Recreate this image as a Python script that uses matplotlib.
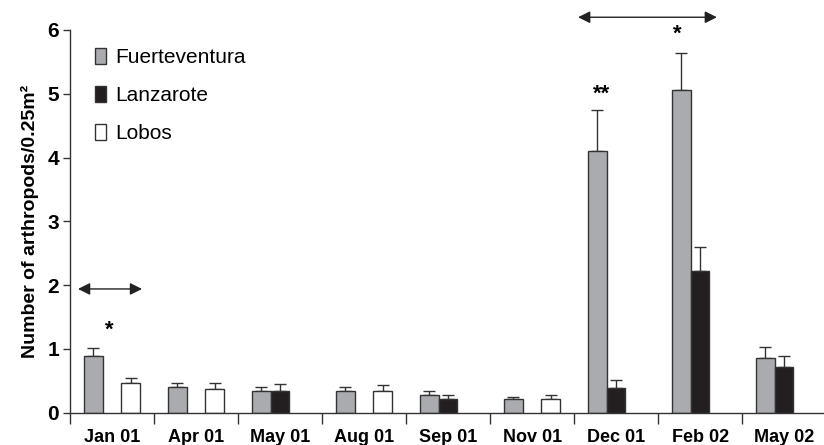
import numpy as np
import matplotlib.pyplot as plt
from matplotlib.ticker import FixedLocator

plt.rcParams['font.family'] = ['Liberation Sans', 'DejaVu Sans']

months = ['Jan 01', 'Apr 01', 'May 01', 'Aug 01', 'Sep 01', 'Nov 01', 'Dec 01', 'Feb 02', 'May 02']
# nan = island not sampled that month
fuert = [0.89, 0.41, 0.34, 0.34, 0.27, 0.21, 4.10, 5.06, 0.86]
fuert_err = [0.13, 0.06, 0.07, 0.07, 0.07, 0.03, 0.64, 0.58, 0.17]
lanz = [np.nan, np.nan, 0.34, np.nan, 0.21, np.nan, 0.38, 2.22, 0.72]
lanz_err = [np.nan, np.nan, 0.11, np.nan, 0.06, np.nan, 0.13, 0.38, 0.17]
lobos = [0.47, 0.37, np.nan, 0.34, np.nan, 0.21, np.nan, np.nan, np.nan]
lobos_err = [0.07, 0.10, np.nan, 0.10, np.nan, 0.06, np.nan, np.nan, np.nan]

x = np.arange(len(months))
w = 0.222
edge = '#333333'

fig = plt.figure(figsize=(8.24, 4.45), dpi=100)
ax = fig.add_axes([0.085, 0.0726, 0.915, 0.86])

series = [(fuert, fuert_err, '#aaabaf', 'Fuerteventura', -w),
          (lanz, lanz_err, '#231f20', 'Lanzarote', 0),
          (lobos, lobos_err, 'white', 'Lobos', w)]
for vals, errs, col, lab, off in series:
    vals = np.array(vals)
    errs = np.array(errs)
    ax.bar(x + off, vals, w, color=col, edgecolor=edge, linewidth=1.0, label=lab, zorder=2)
    ax.errorbar(x + off, vals, yerr=[np.zeros_like(errs), errs], fmt='none',
                ecolor=edge, elinewidth=1.0, capsize=4, capthick=1.0, zorder=1)

# significance marks
arrow = dict(arrowstyle='<|-|>', color='#222222', lw=1.0, mutation_scale=18, shrinkA=0, shrinkB=0)
ax.annotate('', xy=(-0.405, 1.94), xytext=(0.357, 1.94), arrowprops=arrow, annotation_clip=False)
ax.annotate('', xy=(5.548, 6.2), xytext=(7.2, 6.2), arrowprops=arrow, annotation_clip=False)
ax.text(-0.03, 1.2, '*', ha='center', fontsize=16, fontweight='bold')
ax.text(5.83, 4.9, '**', ha='center', fontsize=16, fontweight='bold')
ax.text(6.73, 5.84, '*', ha='center', fontsize=16, fontweight='bold', clip_on=False)

ax.set_xlim(-0.5, 8.475)
ax.set_ylim(0, 6)
ax.set_yticks(range(7))
ax.set_xticks(x)
ax.set_xticklabels(months, fontweight='bold', fontsize=13)
ax.xaxis.set_minor_locator(FixedLocator(np.arange(-0.5, 8.6, 1)))
ax.tick_params(axis='x', which='major', length=0, pad=12)
ax.tick_params(axis='x', which='minor', length=8, width=1, color=edge)
ax.tick_params(axis='y', length=5, width=1, color=edge, labelsize=15, pad=3)
for t in ax.get_yticklabels():
    t.set_fontweight('bold')
ax.set_ylabel('Number of arthropods/0.25m²', fontweight='bold', fontsize=14, labelpad=6)

for s in ['top', 'right']:
    ax.spines[s].set_visible(False)
for s in ['left', 'bottom']:
    ax.spines[s].set_color(edge)
    ax.spines[s].set_linewidth(1.0)

ax.legend(loc='upper left', bbox_to_anchor=(95 / 824, 1 - 48 / 445), bbox_transform=fig.transFigure,
          frameon=False, fontsize=15, handlelength=0.55, handleheight=0.8, handletextpad=0.4,
          labelspacing=0.9, borderpad=0, borderaxespad=0)

fig.savefig('out.png', dpi=100)
